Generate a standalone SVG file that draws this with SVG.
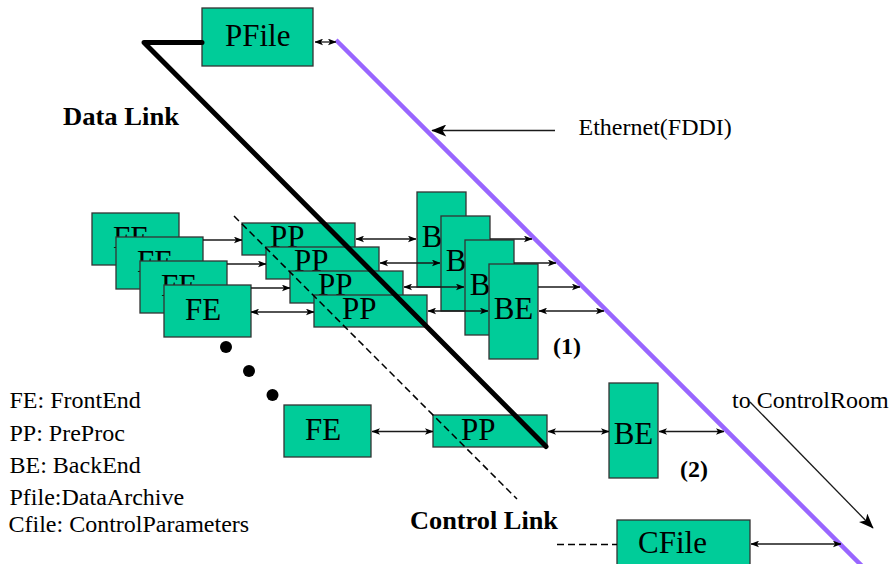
<svg xmlns="http://www.w3.org/2000/svg" width="891" height="564" viewBox="0 0 891 564" font-family="Liberation Serif, Times New Roman, serif">
  <style>
    .box { fill: #00CC99; stroke: #333333; stroke-width: 1.3; }
    .lbl { font-family: "Liberation Serif", "Times New Roman", serif; font-size: 31px; fill: #000; }
    .mid { text-anchor: middle; }
    .txt { font-family: "Liberation Serif", "Times New Roman", serif; font-size: 24px; fill: #000; }
    .bold { font-family: "Liberation Serif", "Times New Roman", serif; font-weight: bold; fill: #000; }
    .arr { fill: none; stroke: #1a1a1a; stroke-width: 1.3; }
    .two { marker-start: url(#ah); marker-end: url(#ah); }
    .one { marker-end: url(#ah); }
  </style>
  <defs>
    <marker id="ah" viewBox="0 0 10 8" refX="9.5" refY="4" markerWidth="8.5" markerHeight="7" markerUnits="userSpaceOnUse" orient="auto-start-reverse">
      <path d="M0,0 L10,4 L0,8 L2.5,4 z" fill="#000"/>
    </marker>
    <marker id="big" viewBox="0 0 10 8" refX="9.5" refY="4" markerWidth="16" markerHeight="12" markerUnits="userSpaceOnUse" orient="auto">
      <path d="M0,0 L10,4 L0,8 L2.5,4 z" fill="#000"/>
    </marker>
  </defs>

  <!-- archive -->
  <g id="pfile">
    <rect class="box" x="202" y="8" width="111" height="58"/>
    <text class="lbl" x="225" y="45.5">PFile</text>
  </g>

  <!-- stacked processing chains -->
  <g id="fe1"><rect class="box" x="92" y="213" width="87" height="52"/><text class="lbl" x="113" y="247.5">FE</text></g>
  <g id="fe2"><rect class="box" x="116" y="237" width="87" height="52"/><text class="lbl" x="137" y="271.5">FE</text></g>
  <g id="fe3"><rect class="box" x="140" y="261" width="87" height="52"/><text class="lbl" x="161" y="295.5">FE</text></g>
  <g id="fe4"><rect class="box" x="164" y="285" width="87" height="52"/><text class="lbl" x="185" y="319.5">FE</text></g>

  <g id="pp1"><rect class="box" x="242" y="223" width="113" height="32"/><text class="lbl" x="270" y="247">PP</text></g>
  <g id="pp2"><rect class="box" x="266" y="247" width="113" height="32"/><text class="lbl" x="294" y="271">PP</text></g>
  <g id="pp3"><rect class="box" x="290" y="271" width="113" height="32"/><text class="lbl" x="318" y="295">PP</text></g>
  <g id="pp4"><rect class="box" x="314" y="295" width="113" height="32"/><text class="lbl" x="342" y="319">PP</text></g>

  <g id="be1"><rect class="box" x="417" y="192" width="49" height="95"/><text class="lbl mid" x="441.5" y="247">BE</text></g>
  <g id="be2"><rect class="box" x="441" y="216" width="49" height="95"/><text class="lbl mid" x="465.5" y="271">BE</text></g>
  <g id="be3"><rect class="box" x="465" y="240" width="49" height="95"/><text class="lbl mid" x="489.5" y="295">BE</text></g>
  <g id="be4"><rect class="box" x="489" y="264" width="49" height="95"/><text class="lbl mid" x="513.5" y="319">BE</text></g>

  <!-- single chain -->
  <g id="fe5"><rect class="box" x="284" y="405" width="87" height="52"/><text class="lbl" x="305" y="440">FE</text></g>
  <g id="pp5"><rect class="box" x="433" y="415" width="114" height="32"/><text class="lbl" x="461" y="440">PP</text></g>
  <g id="be5"><rect class="box" x="609" y="383" width="49" height="95"/><text class="lbl mid" x="633.5" y="443.5">BE</text></g>

  <!-- control parameters -->
  <g id="cfile">
    <rect class="box" x="617" y="520" width="133" height="50"/>
    <text class="lbl" x="638" y="552.5">CFile</text>
  </g>

  <!-- ellipsis dots -->
  <g id="dots" fill="#000">
    <circle cx="226" cy="347" r="6"/>
    <circle cx="249" cy="371" r="6"/>
    <circle cx="272.5" cy="395" r="6"/>
  </g>

  <g id="connectors">
    <!-- network bus -->
    <line x1="336" y1="40" x2="862" y2="566" stroke="#9966FF" stroke-width="4.5"/>
    <!-- data link -->
    <polyline points="202,42.5 144,42.5 546,446.5" fill="none" stroke="#000" stroke-width="5" stroke-linecap="round" stroke-linejoin="round"/>
    <!-- control link -->
    <g fill="none" stroke="#000" stroke-width="1.5" stroke-dasharray="7 4">
      <line x1="234" y1="216" x2="517" y2="499"/>
      <line x1="557" y1="544.5" x2="617" y2="544.5"/>
    </g>

    <line class="arr two" x1="315" y1="42" x2="336" y2="42"/>

    <!-- FE to PP -->
    <line class="arr one" x1="203" y1="240" x2="242" y2="240"/>
    <line class="arr one" x1="227" y1="264" x2="266" y2="264"/>
    <line class="arr one" x1="251" y1="288" x2="290" y2="288"/>
    <line class="arr two" x1="251" y1="312" x2="314" y2="312"/>

    <!-- PP to BE -->
    <line class="arr two" x1="356" y1="239" x2="416" y2="239"/>
    <line class="arr two" x1="380" y1="263" x2="440" y2="263"/>
    <line class="arr two" x1="404" y1="287" x2="464" y2="287"/>
    <line class="arr two" x1="428" y1="311" x2="488" y2="311"/>

    <!-- BE to bus -->
    <line class="arr one" x1="490" y1="239" x2="532" y2="239"/>
    <line class="arr one" x1="514" y1="263" x2="556" y2="263"/>
    <line class="arr one" x1="538" y1="287" x2="580" y2="287"/>
    <line class="arr two" x1="539" y1="311" x2="604" y2="311"/>

    <!-- single chain -->
    <line class="arr two" x1="372" y1="431.5" x2="433" y2="431.5"/>
    <line class="arr two" x1="548" y1="431.5" x2="609" y2="431.5"/>
    <line class="arr two" x1="659" y1="431.5" x2="724" y2="431.5"/>
    <line class="arr two" x1="751" y1="544" x2="841" y2="544"/>

    <!-- annotations -->
    <line class="arr" x1="555" y1="130.5" x2="432" y2="130.5" marker-end="url(#big)"/>
    <line class="arr" x1="750" y1="402" x2="873" y2="528" marker-end="url(#big)"/>
  </g>

  <!-- labels -->
  <text class="bold" x="63" y="125" font-size="26" textLength="116" lengthAdjust="spacingAndGlyphs">Data Link</text>
  <text class="bold" x="410" y="528.5" font-size="26" textLength="148" lengthAdjust="spacingAndGlyphs">Control Link</text>
  <text class="bold" x="553" y="353.5" font-size="24">(1)</text>
  <text class="bold" x="680" y="476.5" font-size="24">(2)</text>
  <text class="txt" x="578.5" y="134.5">Ethernet(FDDI)</text>
  <text class="txt" x="732" y="407.5">to ControlRoom</text>

  <!-- legend -->
  <g id="legend">
    <text class="txt" x="9.5" y="407.5">FE: FrontEnd</text>
    <text class="txt" x="9.5" y="440.5">PP: PreProc</text>
    <text class="txt" x="9.5" y="472.5">BE: BackEnd</text>
    <text class="txt" x="9.5" y="505">Pfile:DataArchive</text>
    <text class="txt" x="8.5" y="531.5">Cfile: ControlParameters</text>
  </g>
</svg>
